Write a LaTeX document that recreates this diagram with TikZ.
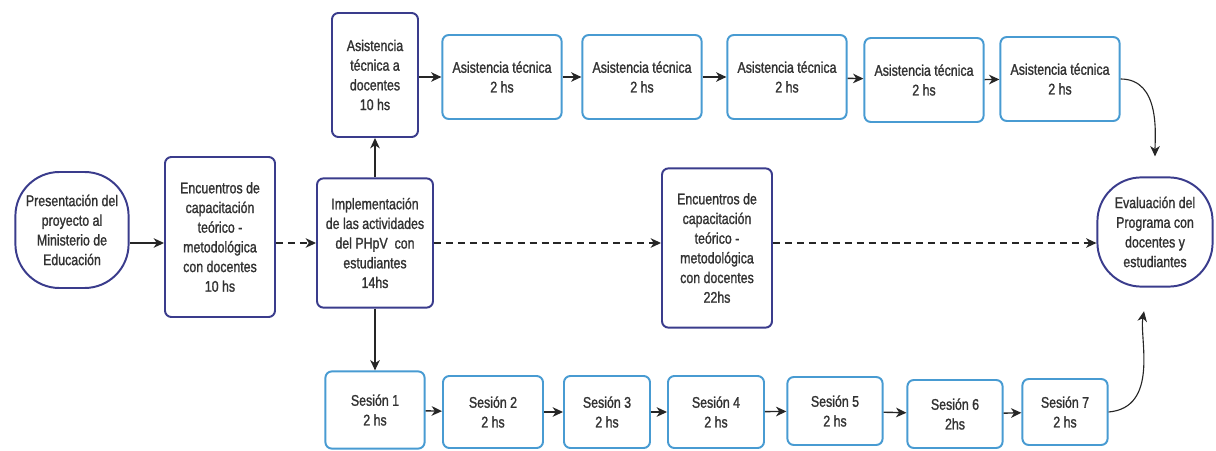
\documentclass[tikz,border=0pt]{standalone}
\usepackage{fontspec}
\setmainfont{Liberation Sans}[FakeStretch=0.8, UprightFeatures={FakeBold=1.3}]
\usetikzlibrary{arrows.meta}
\definecolor{navy}{RGB}{58,60,140}
\definecolor{skyblue}{RGB}{72,155,210}
\definecolor{txt}{RGB}{50,50,50}

\begin{document}
\begin{tikzpicture}[% styles used in image code
           > = {Stealth[length=2.6mm, width=2.4mm, inset=0.8mm]},
every node/.style = {align=center, text=txt, inner sep=1pt,
                     font=\fontsize{11}{14}\selectfont},
navybox/.style args = {#1/#2}{draw=navy, line width=1.4pt,
                              rounded corners=1.6mm,
                              minimum width=#1, minimum height=#2},
bluebox/.style args = {#1/#2}{draw=skyblue, line width=1.4pt,
                              rounded corners=1.6mm,
                              minimum width=#1, minimum height=#2},
terminal/.style args = {#1/#2}{draw=navy, line width=1.4pt,
                               rounded corners=1.1cm,
                               minimum width=#1, minimum height=#2},
flow/.style = {->, line width=1pt, black!85},
skip/.style = {flow, dash pattern=on 5pt off 3.5pt}
                    ]
    \useasboundingbox (0,0) rectangle (30.4,11.25);

    % main row
    \node[terminal=2.83cm/2.9cm] (pres) at (1.8,5.5)
        {Presentación del\\ proyecto al\\ Ministerio de\\ Educación};
    \node[navybox=2.75cm/4cm] (enc1) at (5.5,5.325)
        {Encuentros de\\ capacitación\\ teórico -\\ metodológica\\ con docentes\\ 10 hs};
    \node[navybox=2.9cm/3.23cm] (impl) at (9.375,5.175)
        {Implementación\\ de las actividades\\ del PHpV\ \ con\\ estudiantes\\ 14hs};
    \node[navybox=2.75cm/3.98cm] (enc2) at (17.925,5.05)
        {Encuentros de\\ capacitación\\ teórico -\\ metodológica\\ con docentes\\ 22hs};
    \node[terminal=2.88cm/2.73cm] (eval) at (28.875,5.45)
        {Evaluación del\\ Programa con\\ docentes y\\ estudiantes};

    \draw[flow] (pres.east |- impl) -- (enc1.west |- impl);
    \draw[skip] (enc1.east |- impl) -- (impl);
    \draw[skip] (impl) -- (enc2.west |- impl);
    \draw[skip] (enc2.east |- impl) -- (eval.west |- impl);

    % asistencia técnica row
    \node[navybox=2.15cm/3.1cm] (asis) at (9.375,9.375)
        {Asistencia\\ técnica a\\ docentes\\ 10 hs};
    \node[bluebox=2.98cm/2.1cm] (at1) at (12.55,9.325) {Asistencia técnica\\ 2 hs};
    \node[bluebox=2.98cm/2.1cm] (at2) at (16.05,9.325) {Asistencia técnica\\ 2 hs};
    \node[bluebox=2.98cm/2.1cm] (at3) at (19.675,9.325) {Asistencia técnica\\ 2 hs};
    \node[bluebox=2.98cm/2.1cm] (at4) at (23.1,9.25) {Asistencia técnica\\ 2 hs};
    \node[bluebox=2.98cm/2.1cm] (at5) at (26.5,9.275) {Asistencia técnica\\ 2 hs};

    \draw[flow] (impl) -- (asis);
    \draw[flow] (asis.east |- at1) -- (at1);
    \draw[flow] (at1) -- (at2);
    \draw[flow] (at2) -- (at3);
    \draw[flow] (at3) -- (at4);
    \draw[flow] (at4) -- (at5);
    \draw[flow, line width=0.8pt, shorten >=5mm]
        (at5.east) to[out=0, in=90] (eval.north);

    % sesiones row
    \node[bluebox=2.48cm/1.93cm] (s1) at (9.375,1.0) {Sesión 1\\ 2 hs};
    \node[bluebox=2.5cm/1.8cm] (s2) at (12.325,0.95) {Sesión 2\\ 2 hs};
    \node[bluebox=2.15cm/1.8cm] (s3) at (15.175,0.95) {Sesión 3\\ 2 hs};
    \node[bluebox=2.4cm/1.8cm] (s4) at (17.9,0.95) {Sesión 4\\ 2 hs};
    \node[bluebox=2.38cm/1.7cm] (s5) at (20.875,0.975) {Sesión 5\\ 2 hs};
    \node[bluebox=2.38cm/1.7cm] (s6) at (23.875,0.9) {Sesión 6\\ 2hs};
    \node[bluebox=2.13cm/1.65cm] (s7) at (26.625,0.95) {Sesión 7\\ 2 hs};

    \draw[flow] (impl) -- (s1);
    \draw[flow] (s1) -- (s2);
    \draw[flow] (s2) -- (s3);
    \draw[flow] (s3) -- (s4);
    \draw[flow] (s4) -- (s5);
    \draw[flow] (s5) -- (s6);
    \draw[flow] (s6) -- (s7);
    \draw[flow, line width=0.8pt, shorten >=6mm]
        (s7.east) to[out=5, in=-100] (eval.-97);
\end{tikzpicture}
\end{document}
